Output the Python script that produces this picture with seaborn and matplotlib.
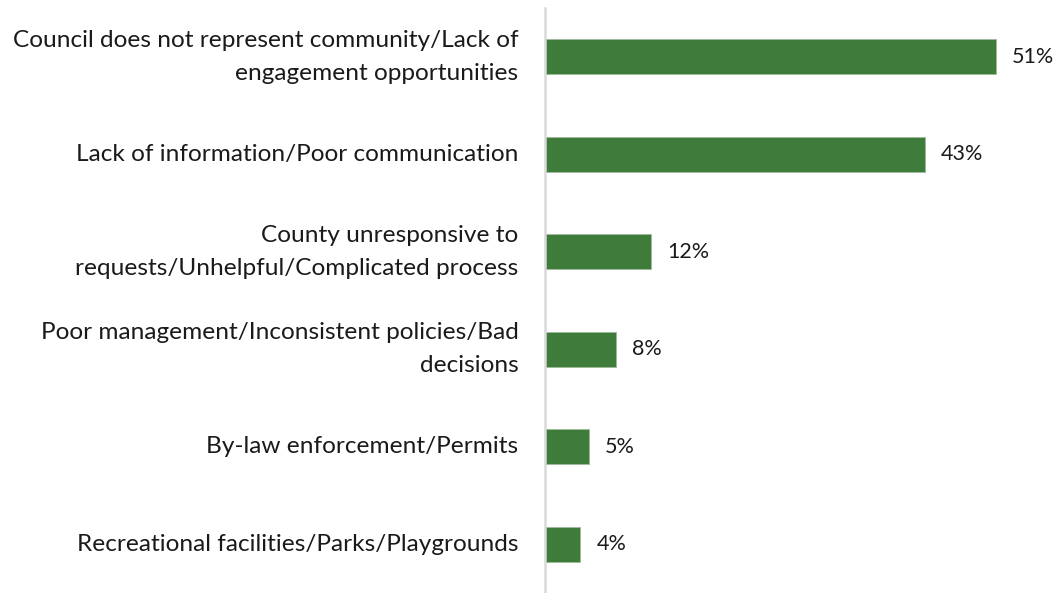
import matplotlib
matplotlib.use("Agg")
import matplotlib.pyplot as plt
import seaborn as sns
import pandas as pd

categories = [
    "Council does not represent community/Lack of\nengagement opportunities",
    "Lack of information/Poor communication",
    "County unresponsive to\nrequests/Unhelpful/Complicated process",
    "Poor management/Inconsistent policies/Bad\ndecisions",
    "By-law enforcement/Permits",
    "Recreational facilities/Parks/Playgrounds",
]
values = [51, 43, 12, 8, 5, 4]
value_labels = ["51%", "43%", "12%", "8%", "5%", "4%"]

df = pd.DataFrame({"category": categories, "value": values})

sns.set_theme(style="white")
plt.rcParams['font.family'] = ['Lato', 'DejaVu Sans']

fig = plt.figure(figsize=(10.57, 5.93), dpi=100)
ax = fig.add_axes([545 / 1057, 0.0, 1 - 545 / 1057, 585 / 593])

sns.barplot(data=df, x="value", y="category", orient="h", color="#3F7B3B",
            width=0.36, ax=ax, saturation=1, edgecolor="#9dbb9a", linewidth=0.6)

ax.set_xlim(0, 57.9)
ax.set_ylim(5.5, -0.5)
ax.set_xlabel("")
ax.set_ylabel("")
ax.set_xticks([])
for s in ["top", "right", "bottom"]:
    ax.spines[s].set_visible(False)
ax.spines["left"].set_color("#d9d9d9")
ax.spines["left"].set_linewidth(1.8)
ax.set_yticks(range(len(categories)))
ax.set_yticklabels(categories, ha="right", va="center", multialignment="right",
                   linespacing=1.7, fontsize=17.6, color="#1a1a1a")
ax.tick_params(axis="y", length=0, pad=19)

for i, (v, t) in enumerate(zip(values, value_labels)):
    ax.annotate(t, xy=(v, i), xytext=(11.5, 0), textcoords="offset points",
                va="center", ha="left", fontsize=15.5, color="#1a1a1a")

fig.savefig("out.png", dpi=100)
